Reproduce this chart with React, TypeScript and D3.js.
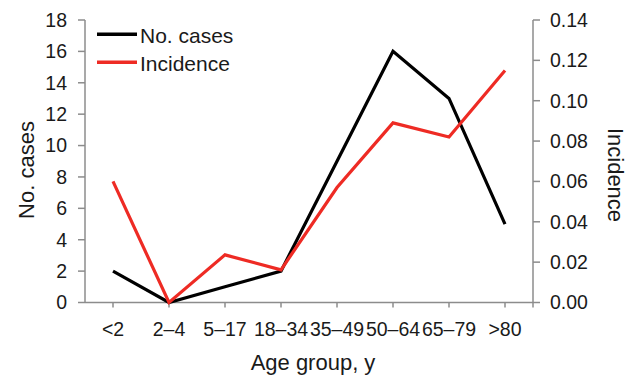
import React from 'react';
import * as d3 from 'd3';

const ageGroups = ['<2', '2–4', '5–17', '18–34', '35–49', '50–64', '65–79', '>80'];
const cases = [2, 0, 1, 2, 9, 16, 13, 5];
const incidence = [0.06, 0, 0.0236, 0.0162, 0.057, 0.089, 0.082, 0.115];
const leftTicks = [0, 2, 4, 6, 8, 10, 12, 14, 16, 18];
const rightTicks = [0, 0.02, 0.04, 0.06, 0.08, 0.1, 0.12, 0.14];

const W = 629;
const H = 375;
const X0 = 85;
const X1 = 533;
const Y0 = 302.5;
const Y1 = 20;
const AXIS = '#8c8c8c';
const RED = '#ee2b24';
const FONT = 'Liberation Sans, Arial, sans-serif';

export default function App() {
  const x = d3.scalePoint<string>().domain(ageGroups).range([X0, X1]).padding(0.5);
  const yL = d3.scaleLinear().domain([0, 18]).range([Y0, Y1]);
  const yR = d3.scaleLinear().domain([0, 0.14]).range([Y0, Y1]);

  const caseLine = d3
    .line<number>()
    .x((_, i) => x(ageGroups[i])!)
    .y((d) => yL(d));
  const incLine = d3
    .line<number>()
    .x((_, i) => x(ageGroups[i])!)
    .y((d) => yR(d));

  return (
    <svg
      width={W}
      height={H}
      style={{ position: 'absolute', left: 0, top: 0, background: '#fff' }}
      fontFamily={FONT}
    >
      {/* axes */}
      <g stroke={AXIS} strokeWidth={1.5} fill="none">
        <line x1={X0} x2={X0} y1={Y1} y2={Y0} />
        <line x1={X1} x2={X1} y1={Y1} y2={Y0} />
        <line x1={X0} x2={X1} y1={Y0} y2={Y0} />
        {leftTicks.map((t) => (
          <line key={'l' + t} x1={X0 - 7} x2={X0} y1={yL(t)} y2={yL(t)} />
        ))}
        {rightTicks.map((t) => (
          <line key={'r' + t} x1={X1} x2={X1 + 7} y1={yR(t)} y2={yR(t)} />
        ))}
        {ageGroups.map((g) => (
          <line key={'x' + g} x1={x(g)} x2={x(g)} y1={Y0} y2={Y0 + 5} />
        ))}
        <line x1={X1} x2={X1} y1={Y0} y2={Y0 + 5} />
      </g>

      {/* tick labels */}
      <g fontSize={19.5} fill="#1a1a1a">
        {leftTicks.map((t) => (
          <text key={'lt' + t} x={X0 - 18} y={yL(t)} dy="0.35em" textAnchor="end">
            {t}
          </text>
        ))}
        {rightTicks.map((t) => (
          <text key={'rt' + t} x={X1 + 17} y={yR(t)} dy="0.35em" textAnchor="start">
            {t.toFixed(2)}
          </text>
        ))}
        {ageGroups.map((g) => (
          <text key={'xt' + g} x={x(g)} y={Y0 + 33} textAnchor="middle">
            {g}
          </text>
        ))}
      </g>

      {/* axis titles */}
      <g fontSize={22} fill="#1a1a1a">
        <text x={313} y={370} textAnchor="middle">
          Age group, y
        </text>
        <text transform="translate(34,170) rotate(-90)" textAnchor="middle">
          No. cases
        </text>
        <text transform="translate(608,175) rotate(90)" textAnchor="middle">
          Incidence
        </text>
      </g>

      {/* data lines */}
      <path d={caseLine(cases)!} fill="none" stroke="#000" strokeWidth={3.2} strokeLinejoin="miter" />
      <path d={incLine(incidence)!} fill="none" stroke={RED} strokeWidth={3.2} strokeLinejoin="miter" />

      {/* legend */}
      <g fontSize={21} fill="#1a1a1a">
        <line x1={97} x2={137} y1={34.3} y2={34.3} stroke="#000" strokeWidth={3.5} />
        <text x={140} y={43.3}>No. cases</text>
        <line x1={97} x2={137} y1={62.3} y2={62.3} stroke={RED} strokeWidth={3.5} />
        <text x={140} y={70.7}>Incidence</text>
      </g>
    </svg>
  );
}
